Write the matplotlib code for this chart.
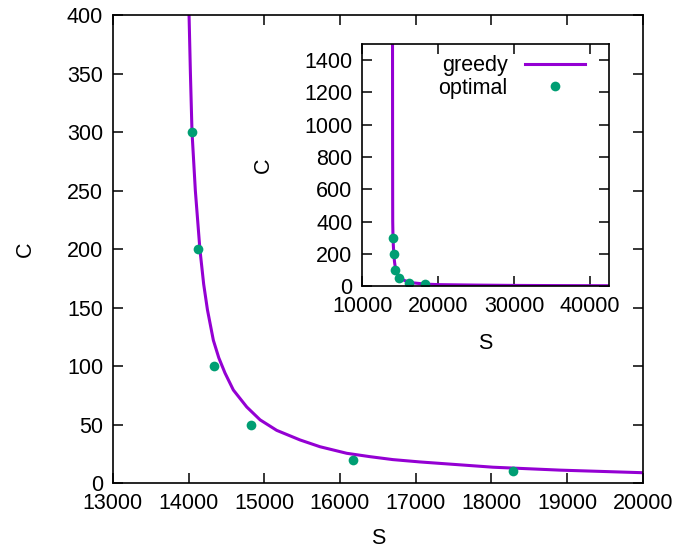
import matplotlib
matplotlib.use("Agg")
import matplotlib.pyplot as plt

plt.rcParams['font.family'] = ['Liberation Sans', 'DejaVu Sans']

# greedy curve
greedy_S = [13980, 13990, 14000, 14007, 14025, 14046, 14090, 14150, 14200, 14250,
            14328, 14400, 14482, 14592, 14769, 14945, 15165, 15473, 15737, 16090,
            16398, 16700, 17058, 18022, 18908, 20000, 25000, 30000, 35000, 42500]
greedy_C = [1600, 900, 550, 400, 350, 300, 250, 200, 170, 148,
            122, 107, 94, 79.5, 65, 54, 45, 36.8, 31, 25.4,
            22.5, 20, 18, 13.5, 11, 8.8, 6, 4, 3, 2]

# optimal points
opt_S = [14044, 14123, 14334, 14823, 16170, 18284]
opt_C = [300, 200, 100, 50, 20, 10]

purple = "#9400D3"
green = "#009E73"
fs = 15.5


def style(ax):
    ax.tick_params(direction="in", length=7, width=1.1, top=True, right=True,
                   labelsize=fs, pad=7)
    for sp in ax.spines.values():
        sp.set_linewidth(1.2)


fig = plt.figure(figsize=(6.78, 5.48), dpi=100)

ax = fig.add_axes([0.1664, 0.1186, 0.7816, 0.854])
ax.plot(greedy_S, greedy_C, color=purple, lw=2.2)
ax.plot(opt_S, opt_C, "o", color=green, ms=7, mec="none")
ax.set_xlim(13000, 20000)
ax.set_ylim(0, 400)
ax.set_xticks(range(13000, 20001, 1000))
ax.set_yticks(range(0, 401, 50))
ax.set_xlabel("S", fontsize=fs, labelpad=10)
ax.set_ylabel("C", fontsize=fs, labelpad=22)
style(ax)

ins = fig.add_axes([0.5344, 0.478, 0.3636, 0.4417])
ins.plot(greedy_S, greedy_C, color=purple, lw=2.2, label="greedy")
ins.plot(opt_S, opt_C, "o", color=green, ms=7, mec="none", label="optimal")
ins.set_xlim(10000, 42500)
ins.set_ylim(0, 1500)
ins.set_xticks(range(10000, 40001, 10000))
ins.set_yticks(range(0, 1401, 200))
ins.set_xlabel("S", fontsize=fs, labelpad=12)
ins.set_ylabel("C", fontsize=fs, labelpad=22)
style(ins)
leg = ins.legend(loc="upper right", frameon=False, fontsize=fs, markerfirst=False,
                 handlelength=2.8, borderaxespad=0.3, labelspacing=0.05,
                 handletextpad=0.8, bbox_to_anchor=(0.965, 1.015))
for t in leg.get_texts():
    t.set_ha("right")

fig.savefig("out.png", dpi=100)
